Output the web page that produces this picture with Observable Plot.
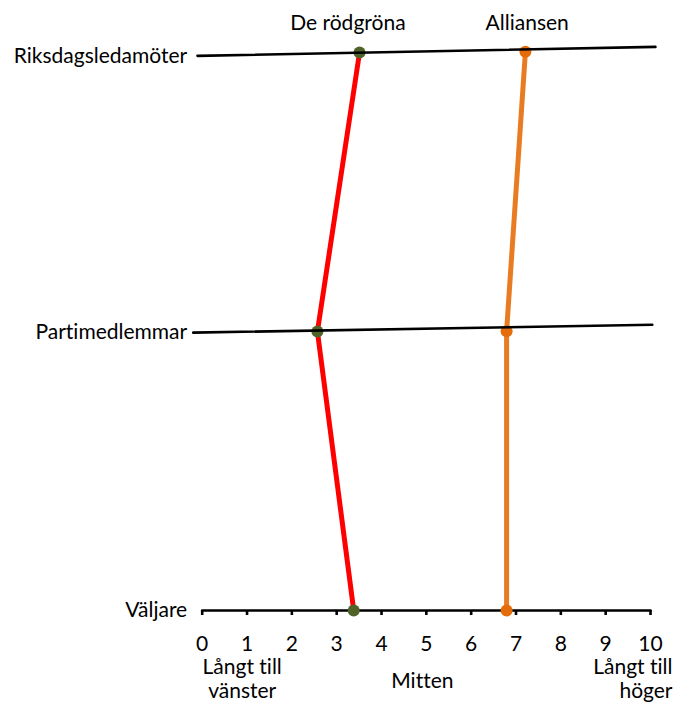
<!DOCTYPE html>
<html>
<head>
<meta charset="utf-8">
<script src="https://cdn.jsdelivr.net/npm/d3@7"></script>
<script src="https://cdn.jsdelivr.net/npm/@observablehq/plot@0.6"></script>
<style>
  html, body { margin: 0; padding: 0; background: #fff; }
  #chart svg { display: block; }
  #chart svg text { font-variant-ligatures: none; font-feature-settings: "liga" 0, "clig" 0; }
</style>
</head>
<body>
<div id="chart"></div>
<script>
// Levels (y): 0 = Väljare, 1 = Partimedlemmar, 2 = Riksdagsledamöter
const levels = ["Väljare", "Partimedlemmar", "Riksdagsledamöter"];
const levelIndex = [0, 1, 2];

// Level lines as drawn (slightly tilted): start/end x and y
const levelStartX = [0, -0.2, -0.105];
const levelEndX = [10, 10.04, 10.11];
const levelStartY = [0, 0.996, 1.988];
const levelEndY = [0, 1.024, 2.02];

// Series: positions on the 0–10 left-right scale
const series = ["De rödgröna", "Alliansen"];
const rodgrona = [3.38, 2.57, 3.51];   // Väljare, Partimedlemmar, Riksdagsledamöter
const alliansen = [6.79, 6.79, 7.21];
const rodgronaY = [0, 1.0, 2.0];
const alliansenY = [0, 1.001, 2.003];
const seriesHeaderX = [3.25, 7.25];

const lineColors = ["#ff0000", "#e97b22"];
const dotColors = ["#4f6228", "#e46c0a"];

const xTicks = [0, 1, 2, 3, 4, 5, 6, 7, 8, 9, 10];
const scaleLabels = ["Långt till\nvänster", "Mitten", "Långt till\nhöger"];
const scaleLabelX = [0, 5, 10];

const lines = levelIndex.map(i => [
  {x: levelStartX[i], y: levelStartY[i], level: i},
  {x: levelEndX[i], y: levelEndY[i], level: i}
]).flat();

const pts = [];
levelIndex.forEach(i => {
  pts.push({series: series[0], x: rodgrona[i], y: rodgronaY[i], lvl: i});
  pts.push({series: series[1], x: alliansen[i], y: alliansenY[i], lvl: i});
});

const font = "Lato, 'Open Sans', sans-serif";
const fs = 21;

const chart = Plot.plot({
  width: 676,
  height: 705,
  marginLeft: 201.7,
  marginRight: 26,
  marginTop: 52,
  marginBottom: 95,
  style: {fontFamily: font, fontSize: fs + "px", color: "#000", background: "#fff"},
  x: {type: "linear", domain: [0, 10], axis: null},
  y: {type: "linear", domain: [0, 2], axis: null},
  color: {domain: series, range: lineColors},
  marks: [
    // bottom axis line (Väljare) with ticks
    Plot.line(lines.filter(d => d.level === 0), {x: "x", y: "y", stroke: "#000", strokeWidth: 2.6}),
    Plot.axisX({ticks: xTicks, tickSize: 5, tickPadding: 21, strokeWidth: 2.6, fontSize: fs, label: null, tickFormat: d => String(d)}),
    // series lines
    Plot.line(pts, {x: "x", y: "y", z: "series", stroke: "series", strokeWidth: 5, sort: "lvl"}),
    Plot.dot(pts, {x: "x", y: "y", r: 6, fill: d => dotColors[series.indexOf(d.series)], stroke: "none"}),
    // upper level lines
    Plot.line(lines.filter(d => d.level > 0), {x: "x", y: "y", z: "level", stroke: "#000", strokeWidth: 2.6}),
    // level labels
    Plot.text(levelIndex, {frameAnchor: "left", y: i => levelStartY[i], text: i => levels[i], textAnchor: "end", dx: -15, fontSize: fs}),
    // series headers
    Plot.text(series, {x: (d, i) => seriesHeaderX[i], y: () => 2, text: d => d, dy: -29, fontSize: fs}),
    // scale end labels
    Plot.text([scaleLabels[0]], {x: () => scaleLabelX[0], y: () => 0, text: d => d, textAnchor: "middle", dx: 40, dy: 68, lineHeight: 1.12, fontSize: fs}),
    Plot.text([scaleLabels[1]], {x: () => scaleLabelX[1], y: () => 0, text: d => d, textAnchor: "middle", dx: -4, dy: 71, fontSize: fs}),
    Plot.text([scaleLabels[2]], {x: () => scaleLabelX[2], y: () => 0, text: d => d, textAnchor: "end", dx: 22, dy: 68, lineHeight: 1.12, fontSize: fs})
  ]
});
document.getElementById("chart").appendChild(chart);
</script>
</body>
</html>
